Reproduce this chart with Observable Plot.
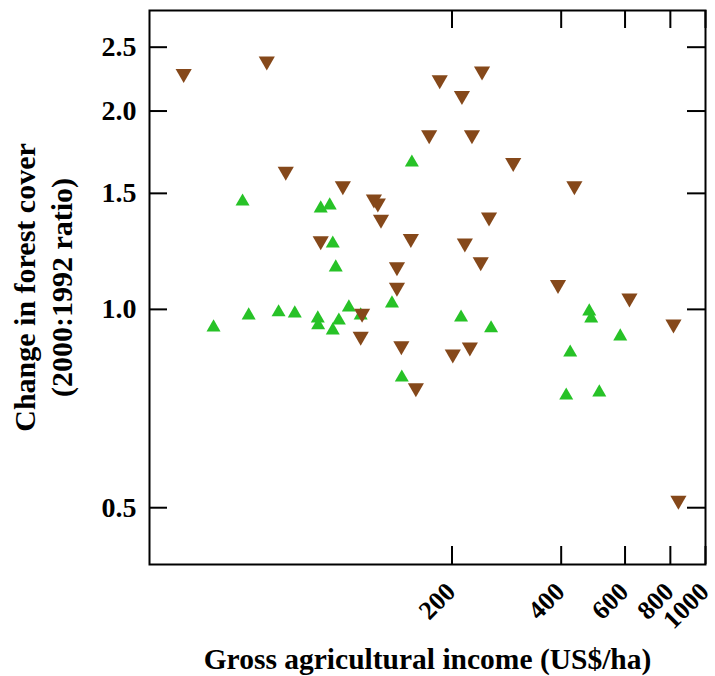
<!DOCTYPE html>
<html>
<head>
<meta charset="utf-8">
<script src="https://cdn.jsdelivr.net/npm/d3@7"></script>
<script src="https://cdn.jsdelivr.net/npm/@observablehq/plot@0.6"></script>
<style>
  html, body { margin: 0; padding: 0; background: #fff; }
  #chart svg { display: block; }
</style>
</head>
<body>
<div id="chart"></div>
<script>
// Brown (down-pointing triangles)
const brownX = [36.4, 61.7, 69.6, 100, 86.9, 121.8, 124.9, 127.4, 185, 242, 213, 173, 227, 295, 435, 253, 154, 217, 240, 141, 141, 392, 617, 816, 112, 145, 201, 224, 159, 842, 113];
const brownY = [2.28, 2.38, 1.62, 1.54, 1.27, 1.47, 1.45, 1.37, 2.23, 2.30, 2.11, 1.84, 1.84, 1.67, 1.54, 1.38, 1.28, 1.26, 1.18, 1.16, 1.08, 1.09, 1.04, 0.95, 0.91, 0.88, 0.855, 0.876, 0.76, 0.513, 0.986];
// Green (up-pointing triangles)
const greenX = [52.9, 86.9, 92, 93.8, 95.6, 155, 44, 55, 66.5, 73.7, 85.3, 85.5, 93.8, 97.5, 103.9, 112, 136.6, 145.4, 211.8, 256.3, 478, 484, 582, 423.6, 413, 509.5];
const greenY = [1.458, 1.423, 1.438, 1.259, 1.158, 1.671, 0.939, 0.979, 0.99, 0.986, 0.969, 0.946, 0.929, 0.962, 1.007, 0.979, 1.021, 0.788, 0.972, 0.936, 0.993, 0.969, 0.910, 0.860, 0.740, 0.748];

const xTicks = [200, 400, 600, 800, 1000];
const yTicks = [0.5, 1.0, 1.5, 2.0, 2.5];
const xDomain = [29.3, 1000];
const yDomain = [0.41, 2.842];

const xLabel = "Gross agricultural income (US$/ha)";
const yLabel1 = "Change in forest cover";
const yLabel2 = "(2000:1992 ratio)";

const brown = brownX.map((x, i) => ({x, y: brownY[i]}));
const green = greenX.map((x, i) => ({x, y: greenY[i]}));

const W = 715, H = 676;
const mL = 149, mR = 10, mT = 10, mB = 112;
const pw = W - mL - mR, ph = H - mT - mB;
const tick = 18;
const font = "Liberation Serif, Times New Roman, serif";

const chart = Plot.plot({
  width: W,
  height: H,
  marginLeft: mL,
  marginRight: mR,
  marginTop: mT,
  marginBottom: mB,
  style: {fontFamily: font, fontWeight: "bold", background: "#fff", color: "#000"},
  x: {type: "log", domain: xDomain, axis: null},
  y: {type: "log", domain: yDomain, axis: null},
  marks: [
    // inward ticks on all four sides
    Plot.tickY(yTicks, {y: d => d, insetRight: pw - tick, stroke: "#000", strokeWidth: 2}),
    Plot.tickY(yTicks, {y: d => d, insetLeft: pw - tick, stroke: "#000", strokeWidth: 2}),
    Plot.tickX(xTicks, {x: d => d, insetTop: ph - tick, stroke: "#000", strokeWidth: 2}),
    Plot.tickX(xTicks, {x: d => d, insetBottom: ph - tick, stroke: "#000", strokeWidth: 2}),
    // tick labels
    Plot.text(yTicks, {y: d => d, text: d => d3.format(".1f")(d), frameAnchor: "left", dx: -13, textAnchor: "end", lineAnchor: "middle", fontSize: 28, fontWeight: "bold"}),
    Plot.text(xTicks, {x: d => d, text: d => String(d), frameAnchor: "bottom", dx: -1, dy: 23, rotate: -45, textAnchor: "end", lineAnchor: "middle", fontSize: 26, fontWeight: "bold"}),
    // points
    Plot.dot(green, {x: "x", y: "y", symbol: "triangle", r: 5.2, fill: "#27c227", stroke: "none"}),
    Plot.dot(brown, {x: "x", y: "y", symbol: "triangle", rotate: 180, r: 6, fill: "#85481a", stroke: "none"}),
    Plot.frame({stroke: "#000", strokeWidth: 2}),
    // axis titles
    Plot.text([yLabel1], {text: d => d, frameAnchor: "left", rotate: -90, dx: -124, fontSize: 30, fontWeight: "bold", lineAnchor: "middle", textAnchor: "middle"}),
    Plot.text([yLabel2], {text: d => d, frameAnchor: "left", rotate: -90, dx: -87, fontSize: 30, fontWeight: "bold", lineAnchor: "middle", textAnchor: "middle"}),
    Plot.text([xLabel], {text: d => d, frameAnchor: "bottom", dy: 104, fontSize: 29.5, fontWeight: "bold", lineAnchor: "bottom", textAnchor: "middle"})
  ]
});
document.getElementById("chart").appendChild(chart);
</script>
</body>
</html>
